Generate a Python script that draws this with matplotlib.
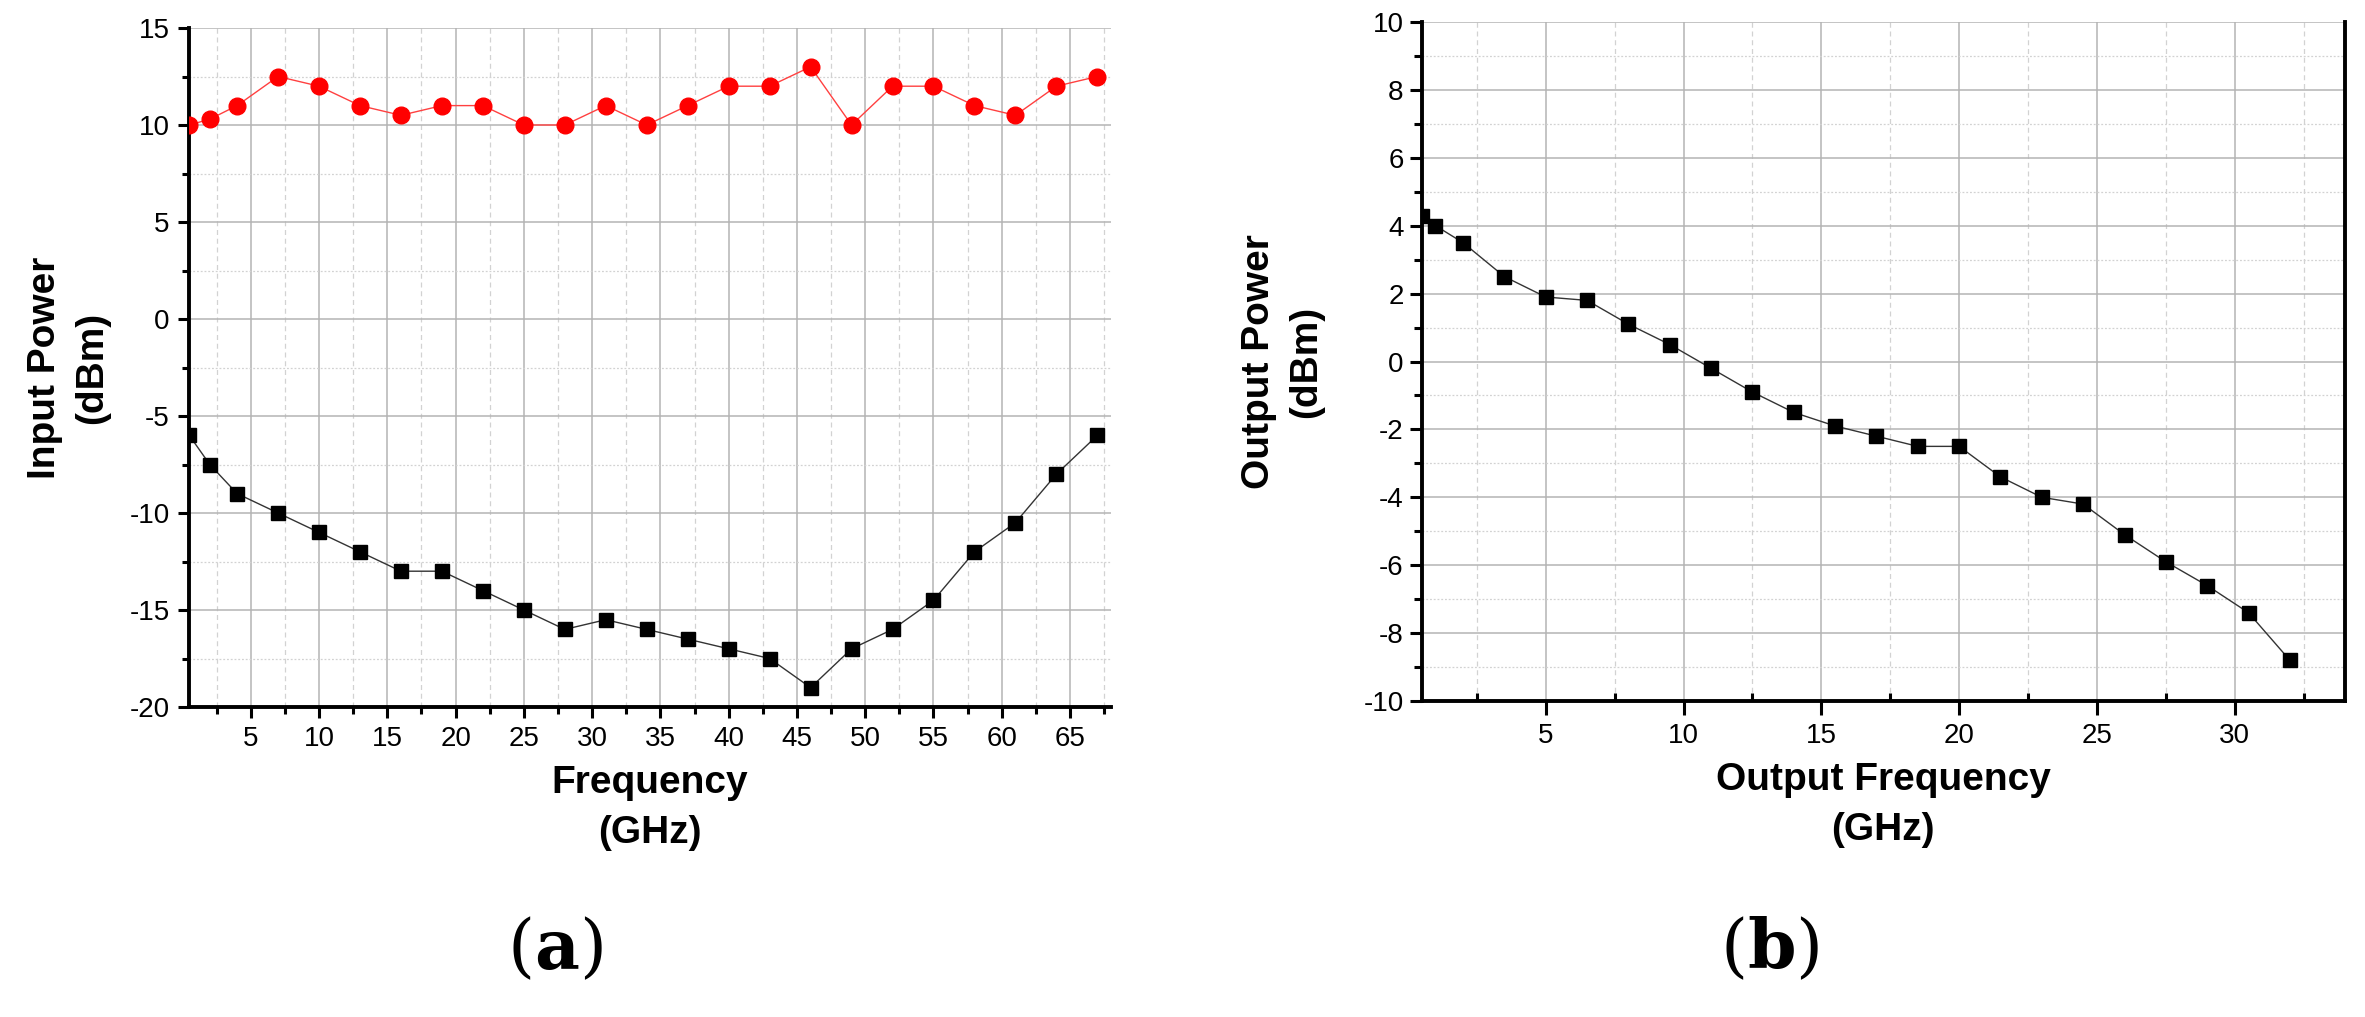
import matplotlib
matplotlib.use("Agg")
import matplotlib.pyplot as plt
from matplotlib.ticker import MultipleLocator

plt.rcParams['font.family'] = ['Liberation Sans', 'DejaVu Sans']
plt.rcParams['mathtext.fontset'] = 'dejavuserif'
plt.rcParams['axes.unicode_minus'] = False

# ---- Data (a) ----
freq_a = [0.5, 2, 4, 7, 10, 13, 16, 19, 22, 25, 28, 31, 34, 37, 40, 43,
          46, 49, 52, 55, 58, 61, 64, 67]
upper_a = [10, 10.3, 11, 12.5, 12, 11, 10.5, 11, 11, 10, 10, 11, 10, 11, 12, 12,
           13, 10, 12, 12, 11, 10.5, 12, 12.5]
lower_a = [-6, -7.5, -9, -10, -11, -12, -13, -13, -14, -15, -16, -15.5, -16, -16.5,
           -17, -17.5, -19, -17, -16, -14.5, -12, -10.5, -8, -6]
xticks_a = [5, 10, 15, 20, 25, 30, 35, 40, 45, 50, 55, 60, 65]
yticks_a = [-20, -15, -10, -5, 0, 5, 10, 15]

# ---- Data (b) ----
freq_b = [0.5, 1, 2, 3.5, 5, 6.5, 8, 9.5, 11, 12.5, 14, 15.5, 17, 18.5, 20,
          21.5, 23, 24.5, 26, 27.5, 29, 30.5, 32]
power_b = [4.3, 4.0, 3.5, 2.5, 1.9, 1.8, 1.1, 0.5, -0.2, -0.9, -1.5, -1.9, -2.2,
           -2.5, -2.5, -3.4, -4.0, -4.2, -5.1, -5.9, -6.6, -7.4, -8.8]
xticks_b = [5, 10, 15, 20, 25, 30]
yticks_b = [-10, -8, -6, -4, -2, 0, 2, 4, 6, 8, 10]

W, H = 2365, 1017
fig = plt.figure(figsize=(W / 100, H / 100), dpi=100)

def frac(x0, y0, x1, y1):
    return [x0 / W, 1 - y1 / H, (x1 - x0) / W, (y1 - y0) / H]

ax1 = fig.add_axes(frac(189.3, 28, 1111, 707))
ax2 = fig.add_axes(frac(1421.7, 22, 2345, 701))

def style_grid(ax):
    ax.set_axisbelow(True)
    ax.xaxis.grid(True, which='major', color='#b4b4b4', lw=1.1, ls='-')
    ax.yaxis.grid(True, which='major', color='#b4b4b4', lw=1.1, ls='-')
    ax.xaxis.grid(True, which='minor', color='#d2d2d2', lw=0.9, ls=(0, (4, 3)))
    ax.yaxis.grid(True, which='minor', color='#d2d2d2', lw=0.9, ls=(0, (1.5, 1.5)))

# ---- Panel (a) ----
ax1.plot(freq_a, upper_a, color='#ff4040', lw=1.0, marker='o', ms=12,
         mfc='#ff0000', mec='#ff0000', zorder=3)
ax1.plot(freq_a, lower_a, color='#333333', lw=1.0, marker='s', ms=10.5,
         mfc='black', mec='black', zorder=3)
ax1.set_xlim(0.5, 68)
ax1.set_ylim(-20, 15)
ax1.set_xticks(xticks_a)
ax1.set_yticks(yticks_a)
ax1.xaxis.set_minor_locator(MultipleLocator(2.5))
ax1.yaxis.set_minor_locator(MultipleLocator(2.5))
style_grid(ax1)
for s in ['top', 'right']:
    ax1.spines[s].set_visible(False)
for s in ['left', 'bottom']:
    ax1.spines[s].set_linewidth(2.8)
ax1.tick_params(which='major', direction='out', length=8, width=2.2,
                labelsize=20, pad=6)
ax1.tick_params(which='minor', direction='out', length=5, width=2.2)
ax1.set_xlabel('Frequency\n(GHz)', fontsize=28, fontweight='bold', labelpad=9,
               linespacing=1.5)
ax1.set_ylabel('Input Power\n(dBm)', fontsize=28, fontweight='bold', labelpad=14,
               linespacing=1.4)

# ---- Panel (b) ----
ax2.plot(freq_b, power_b, color='#333333', lw=1.0, marker='s', ms=10.5,
         mfc='black', mec='black', zorder=3)
ax2.set_xlim(0.5, 34)
ax2.set_ylim(-10, 10)
ax2.set_xticks(xticks_b)
ax2.set_yticks(yticks_b)
ax2.xaxis.set_minor_locator(MultipleLocator(2.5))
ax2.yaxis.set_minor_locator(MultipleLocator(1))
style_grid(ax2)
ax2.spines['top'].set_visible(False)
for s in ['left', 'bottom', 'right']:
    ax2.spines[s].set_linewidth(2.8)
ax2.tick_params(axis='x', which='major', direction='out', length=10, width=2.2,
                labelsize=20, pad=6)
ax2.tick_params(axis='x', which='minor', direction='in', length=6, width=2.2)
ax2.tick_params(axis='y', which='major', direction='out', length=9, width=2.2,
                labelsize=20, pad=4)
ax2.tick_params(axis='y', which='minor', direction='out', length=6, width=2.2)
ax2.set_xlabel('Output Frequency\n(GHz)', fontsize=28, fontweight='bold',
               labelpad=9, linespacing=1.5)
ax2.set_ylabel('Output Power\n(dBm)', fontsize=28, fontweight='bold',
               labelpad=28, linespacing=1.4)

# ---- Panel letters ----
fig.text(555 / W, 1 - 949 / H, r'($\mathbf{a}$)', ha='center', va='center',
         fontsize=50, family='DejaVu Serif')
fig.text(1770 / W, 1 - 949 / H, r'($\mathbf{b}$)', ha='center', va='center',
         fontsize=50, family='DejaVu Serif')

fig.savefig('out.png', dpi=100)
